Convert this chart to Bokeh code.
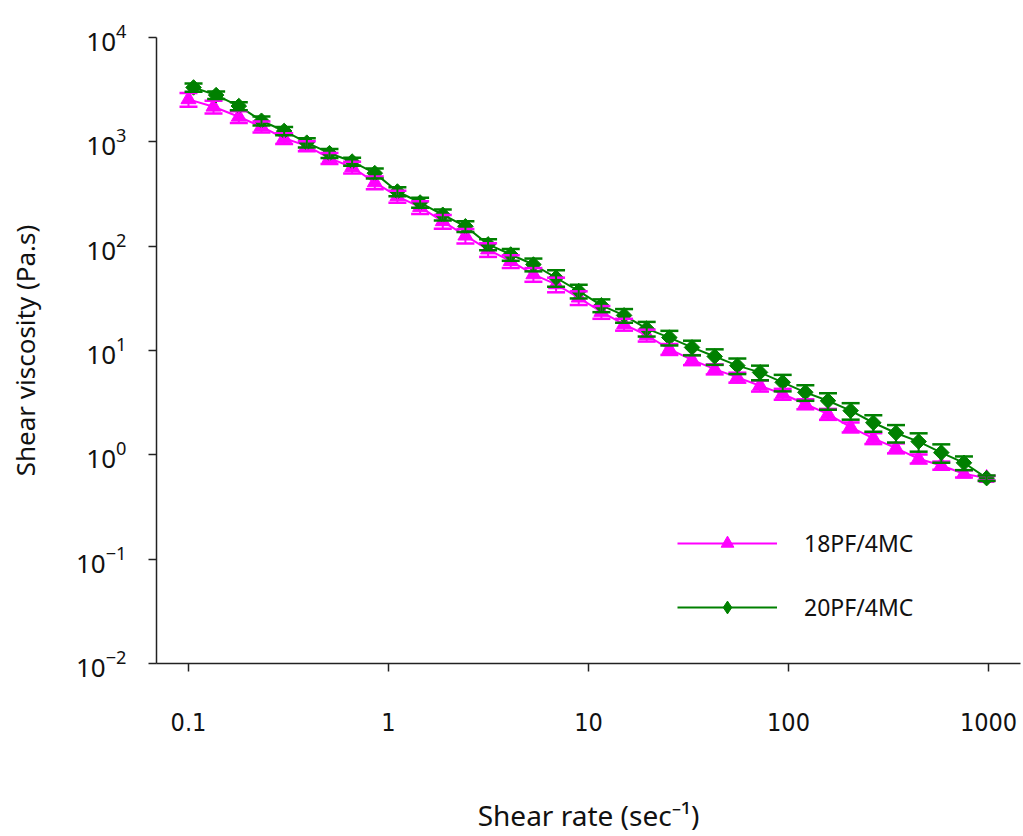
import math
from bokeh.plotting import figure
from bokeh.models import (Range1d, FixedTicker, CustomJSTickFormatter, LogTickFormatter,
                          ColumnDataSource, Whisker, TeeHead, Legend, LegendItem)
from bokeh.embed import file_html
from bokeh.resources import INLINE

# Shear rate (1/s)
shear_rate = [0.106, 0.1375, 0.1785, 0.2317, 0.3008, 0.3905, 0.5069, 0.6579, 0.8541,
              1.108, 1.439, 1.868, 2.424, 3.147, 4.085, 5.303, 6.883, 8.935,
              11.60, 15.06, 19.54, 25.37, 32.93, 42.75, 55.49, 72.03, 93.50,
              121.4, 157.5, 204.5, 265.5, 344.6, 447.3, 580.6, 753.7, 978.4]
shear_rate_18 = [0.100, 0.1334] + shear_rate[2:]

# Shear viscosity (Pa.s)
visc_18 = [2553, 2169, 1740, 1397, 1082, 914, 697, 571, 408, 300, 237, 173, 126,
           92.8, 71.8, 53.6, 43.0, 32.1, 23.4, 17.8, 14.0, 10.3, 8.13, 6.63, 5.52,
           4.59, 3.83, 3.07, 2.46, 1.84, 1.44, 1.16, 0.916, 0.791, 0.659, 0.598]
visc_20 = [3322, 2805, 2203, 1593, 1271, 982, 778, 647, 501, 334, 262, 200, 155,
           104, 83.2, 66.7, 49.8, 37.1, 27.1, 21.7, 16.2, 13.3, 10.7, 8.77, 7.16,
           6.17, 4.95, 3.97, 3.30, 2.65, 2.03, 1.62, 1.34, 1.05, 0.839, 0.598]

# Relative standard deviation
rsd_18 = [0.15, 0.14, 0.13, 0.12, 0.12, 0.11, 0.12, 0.13, 0.14, 0.13, 0.14, 0.15,
          0.16, 0.15, 0.14, 0.15, 0.16, 0.15, 0.14, 0.13, 0.13, 0.12, 0.11, 0.11,
          0.11, 0.12, 0.12, 0.11, 0.12, 0.11, 0.12, 0.11, 0.10, 0.09, 0.08, 0.05]
rsd_20 = [0.09, 0.08, 0.09, 0.10, 0.09, 0.10, 0.10, 0.09, 0.11, 0.10, 0.11, 0.12,
          0.12, 0.12, 0.13, 0.14, 0.18, 0.15, 0.14, 0.15, 0.16, 0.16, 0.16, 0.17,
          0.17, 0.16, 0.18, 0.17, 0.18, 0.18, 0.18, 0.19, 0.20, 0.20, 0.15, 0.06]

x_ticks = [0.1, 1, 10, 100, 1000]
y_ticks = [0.01, 0.1, 1, 10, 100, 1000, 10000]
labels = ["18PF/4MC", "20PF/4MC"]

FONT = "Noto Sans"
NARROW = "'DejaVu Sans Condensed', 'Liberation Sans Narrow', 'Roboto Condensed', 'Liberation Sans'"

p = figure(width=1023, height=836, x_axis_type="log", y_axis_type="log",
           x_range=Range1d(0.0692, 1445), y_range=Range1d(0.01, 10000),
           output_backend="svg", toolbar_location=None,
           min_border_left=156, min_border_right=3, min_border_top=37,
           min_border_bottom=171)
p.outline_line_color = None
p.xgrid.visible = False
p.ygrid.visible = False
p.background_fill_color = "white"
p.border_fill_color = "white"

for ax in (p.xaxis[0], p.yaxis[0]):
    ax.axis_line_color = "#222222"
    ax.axis_line_width = 1.5
    ax.major_tick_line_color = "#222222"
    ax.major_tick_line_width = 1.5
    ax.major_tick_out = 8
    ax.major_tick_in = 0
    ax.minor_tick_line_color = None
    ax.major_label_text_color = "#111111"
    ax.axis_label_text_color = "#111111"
    ax.axis_label_text_font_style = "normal"

p.xaxis.ticker = FixedTicker(ticks=x_ticks)
p.xaxis.formatter = CustomJSTickFormatter(code="return String(tick);")
p.xaxis.major_label_text_font = NARROW
p.xaxis.major_label_text_font_size = "25px"
p.xaxis.major_label_standoff = 41
p.xaxis.axis_label = "Shear rate (sec\u207b\u00b9)"
p.xaxis.axis_label_text_font = FONT
p.xaxis.axis_label_text_font_size = "28px"
p.xaxis.axis_label_standoff = 62

p.yaxis.ticker = FixedTicker(ticks=y_ticks)
p.yaxis.formatter = LogTickFormatter()
p.yaxis.major_label_text_font = FONT
p.yaxis.major_label_text_font_size = "26px"
p.yaxis.major_label_standoff = 22
p.yaxis.axis_label = "Shear viscosity (Pa.s)"
p.yaxis.axis_label_text_font = FONT
p.yaxis.axis_label_text_font_size = "26px"
p.yaxis.axis_label_standoff = 30

series = [
    (shear_rate_18, visc_18, rsd_18, "#ff00ff", "triangle", 15, 0.0, "triangle"),
    (shear_rate, visc_20, rsd_20, "#008000", "square", 11, math.pi / 4, "diamond"),
]
items = []
for (xs, ys, rsd, color, marker, size, ang, leg_marker), lab in zip(series, labels):
    src = ColumnDataSource(dict(
        x=xs, y=ys,
        upper=[v * (1 + r) for v, r in zip(ys, rsd)],
        lower=[v * (1 - r) for v, r in zip(ys, rsd)],
    ))
    lr = p.line("x", "y", source=src, line_color=color, line_width=2)
    w = Whisker(source=src, base="x", upper="upper", lower="lower",
                dimension="height", line_color=color, line_width=2,
                upper_head=TeeHead(size=18, line_color=color, line_width=2.5),
                lower_head=TeeHead(size=18, line_color=color, line_width=2.5),
                level="glyph")
    p.add_layout(w)
    sr = p.scatter("x", "y", source=src, marker=marker, size=size, angle=ang,
                   fill_color=color, line_color=color, line_width=1)
    # hidden renderer, used only to draw the legend swatch shape
    lg = p.scatter(x=xs[:1], y=ys[:1], marker=leg_marker, size=size,
                   fill_color=color, line_color=color, line_width=1, visible=False)
    items.append(LegendItem(label=lab, renderers=[lr, lg]))

legend = Legend(items=items, location=(521, 40), border_line_color=None,
                background_fill_alpha=0, padding=0, margin=0,
                glyph_width=100, glyph_height=32, label_standoff=27,
                spacing=32, label_text_font=FONT, label_text_font_size="23px",
                label_text_color="#111111", label_height=32)
p.add_layout(legend, "center")

open("out.html", "w").write(file_html(p, INLINE))
